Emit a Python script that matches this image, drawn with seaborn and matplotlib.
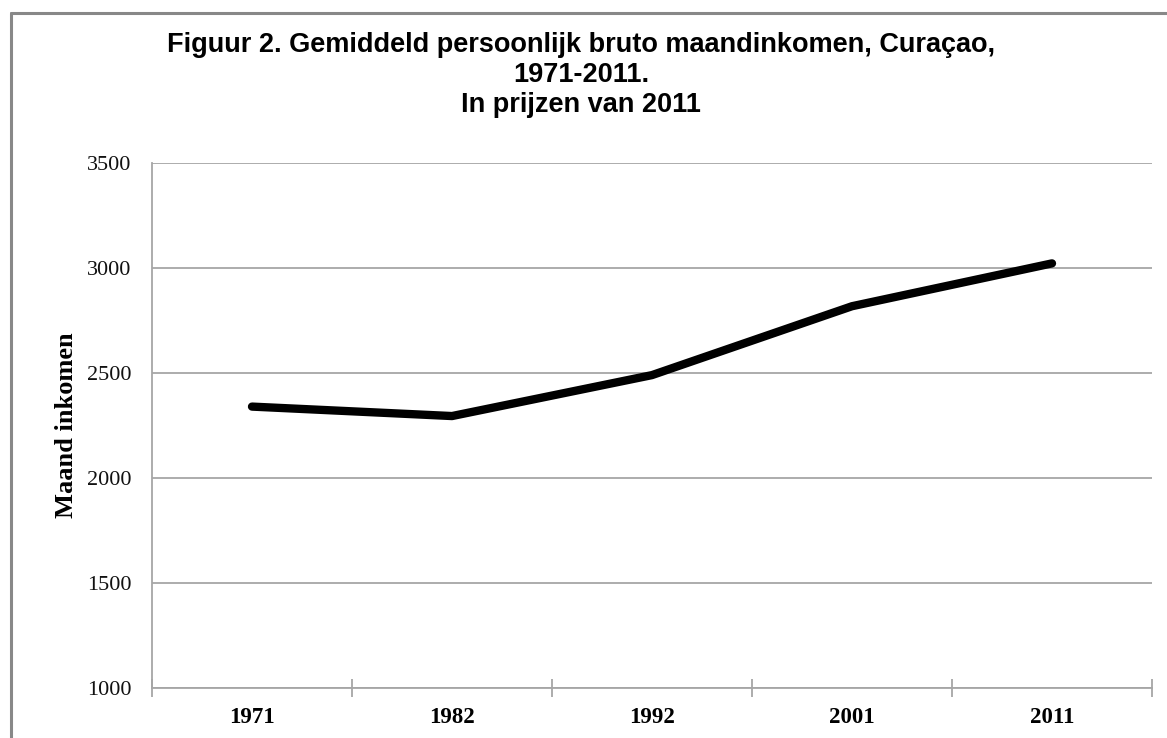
import matplotlib
matplotlib.use("Agg")
import matplotlib.pyplot as plt
import seaborn as sns
import pandas as pd
from matplotlib.lines import Line2D
from matplotlib.ticker import FixedLocator, NullFormatter

years = ["1971", "1982", "1992", "2001", "2011"]
income = [2340, 2295, 2490, 2818, 3022]
y_ticks = [1000, 1500, 2000, 2500, 3000, 3500]
title_lines = ["Figuur 2. Gemiddeld persoonlijk bruto maandinkomen, Curaçao,",
               "1971-2011.",
               "In prijzen van 2011"]
y_label = "Maand inkomen"

df = pd.DataFrame({"jaar": years, "inkomen": income})

sns.set_theme(style="white")
plt.rcParams["font.family"] = ["Liberation Serif", "DejaVu Serif"]

W, H = 1167, 738
fig = plt.figure(figsize=(W / 100, H / 100), dpi=100)
fig.patch.set_facecolor("white")
L, R, T, B = 152, 1152, 163, 688
ax = fig.add_axes([L / W, 1 - B / H, (R - L) / W, (B - T) / H])

sns.lineplot(data=df, x="jaar", y="inkomen", ax=ax, color="black",
             linewidth=6.0, sort=False)
for ln in ax.get_lines():
    ln.set_solid_capstyle("round")
    ln.set_solid_joinstyle("round")

grid_c = "#a6a6a6"
ax.set_ylim(1000, 3500)
ax.set_yticks(y_ticks)
ax.set_yticklabels([str(v) for v in y_ticks], fontsize=16, color="#111111")
ax.yaxis.grid(True, color=grid_c, linewidth=1.3)
ax.set_axisbelow(True)

n = len(years)
ax.set_xlim(-0.5, n - 0.5)
ax.xaxis.set_major_locator(FixedLocator([i for i in range(n)]))
ax.set_xticklabels(years, fontsize=16.5, color="black", fontweight="bold")
ax.xaxis.set_minor_locator(FixedLocator([i - 0.5 for i in range(n + 1)]))
ax.xaxis.set_minor_formatter(NullFormatter())
ax.tick_params(axis="x", which="major", length=0, pad=14, bottom=True)
ax.tick_params(axis="x", which="minor", length=13, direction="inout",
               color=grid_c, width=1.3, bottom=True)
ax.tick_params(axis="y", which="major", length=0, pad=15)

for s in ["top", "right"]:
    ax.spines[s].set_visible(False)
for s in ["left", "bottom"]:
    ax.spines[s].set_visible(True)
    ax.spines[s].set_color(grid_c)
    ax.spines[s].set_linewidth(1.3)

ax.set_xlabel("")
ax.set_ylabel(y_label, fontsize=19, fontweight="bold", labelpad=6,
              color="black")

# title
tcx = 581 / W
for txt, yb in zip(title_lines, [52, 82, 112]):
    fig.text(tcx, 1 - yb / H, txt, ha="center", va="baseline",
             fontsize=19.5, fontweight="bold", color="black",
             family=["Liberation Sans", "DejaVu Sans"])

# frame border
fig.add_artist(Line2D([11 / W, 11 / W], [0, 1 - 13 / H], transform=fig.transFigure,
                      color="#888888", linewidth=2.2))
fig.add_artist(Line2D([11 / W, 1], [1 - 13 / H, 1 - 13 / H], transform=fig.transFigure,
                      color="#888888", linewidth=2.2))

fig.savefig("out.png", dpi=100)
